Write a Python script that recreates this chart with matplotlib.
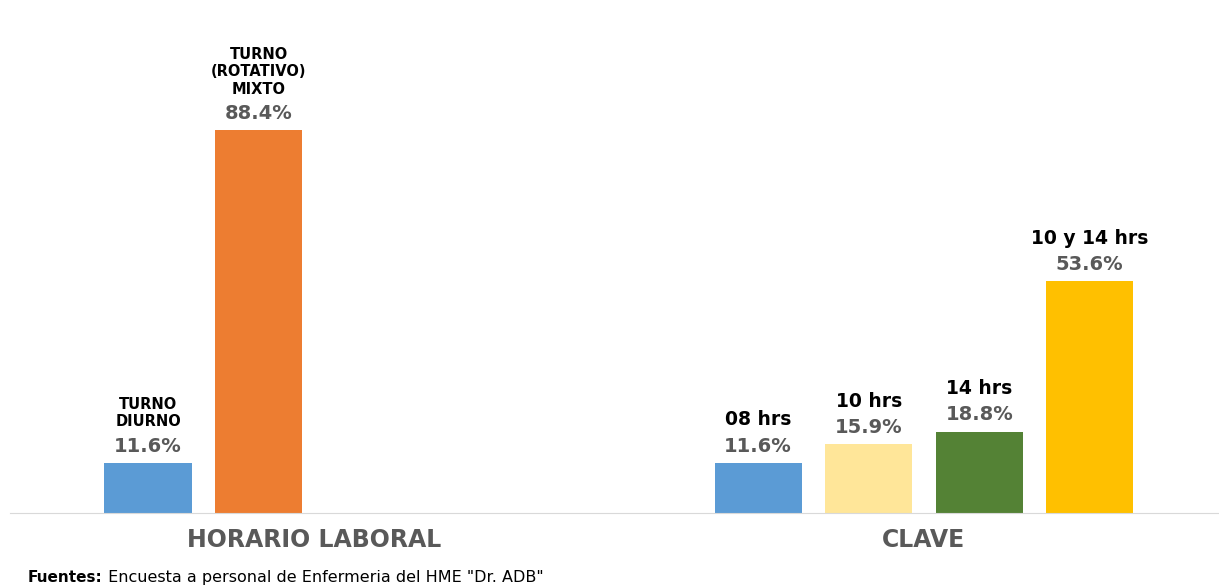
import matplotlib.pyplot as plt

plt.rcParams["font.family"] = ["DejaVu Sans"]

# data
labels = ["TURNO\nDIURNO", "TURNO\n(ROTATIVO)\nMIXTO", "08 hrs", "10 hrs", "14 hrs", "10 y 14 hrs"]
values = [11.6, 88.4, 11.6, 15.9, 18.8, 53.6]
positions = [0, 1, 5.52, 6.52, 7.52, 8.52]
colors = ["#5B9BD5", "#ED7D31", "#5B9BD5", "#FFE699", "#548235", "#FFC000"]
groups = ["HORARIO LABORAL", "CLAVE"]
group_pos = [1.5, 7.02]
name_size = [10.5, 10.5, 13.5, 13.5, 13.5, 13.5]

fig = plt.figure(figsize=(12.19, 5.86), dpi=100)
ax = fig.add_axes([10 / 1219, (586 - 513) / 586, 1209 / 1219, 433 / 586])

ax.bar(positions, values, width=0.79, color=colors)
ax.set_xlim(-1.25, 9.69)
ax.set_ylim(0, 100)

for x, v, lab, fs in zip(positions, values, labels, name_size):
    ax.annotate(f"{v}%", (x, v), xytext=(0, 8), textcoords="offset points",
                ha="center", va="baseline", fontsize=14, fontweight="bold", color="#595959")
    ax.annotate(lab, (x, v), xytext=(0, 24), textcoords="offset points",
                ha="center", va="bottom", fontsize=fs, fontweight="bold", color="#000000",
                linespacing=1.2)

for s in ["top", "left", "right"]:
    ax.spines[s].set_visible(False)
ax.spines["bottom"].set_color("#D9D9D9")
ax.set_yticks([])
ax.set_xticks(group_pos)
ax.set_xticklabels(groups, fontsize=17, fontweight="bold", color="#595959")
ax.tick_params(axis="x", length=0, pad=11)

t1 = ax.annotate("Fuentes:", xy=(28 / 1219, 1 - 585 / 586), xycoords="figure fraction",
                 fontsize=11, fontweight="bold", va="bottom", annotation_clip=False)
ax.annotate(' Encuesta a personal de Enfermeria del HME "Dr. ADB"', xy=(1, 0), xycoords=t1,
            va="bottom", fontsize=11.5, annotation_clip=False)

fig.savefig("out.png", dpi=100)
